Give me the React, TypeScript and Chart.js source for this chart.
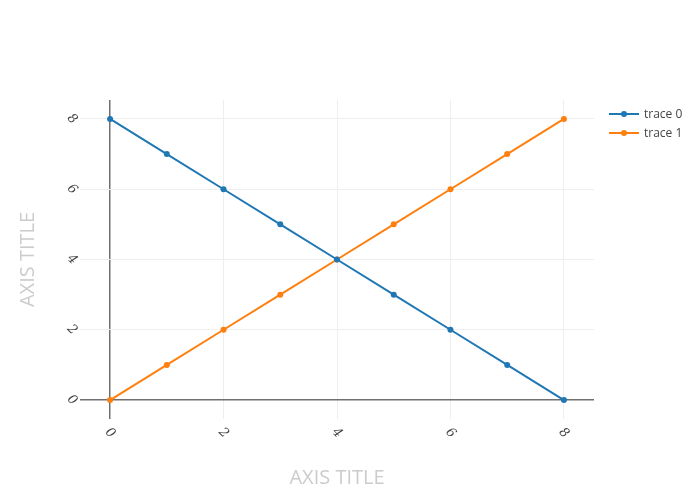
import { useEffect, useRef } from 'react';
import { Chart, ChartConfiguration, Plugin, registerables } from 'chart.js';

Chart.register(...registerables);

const xValues = [0, 1, 2, 3, 4, 5, 6, 7, 8];
const trace0Values = [8, 7, 6, 5, 4, 3, 2, 1, 0];
const trace1Values = [0, 1, 2, 3, 4, 5, 6, 7, 8];
const seriesNames = ['trace 0', 'trace 1'];
const seriesColors = ['#1f77b4', '#ff7f0e'];
const xTicks = [0, 2, 4, 6, 8];
const yTicks = [0, 2, 4, 6, 8];

const tickFont = 'italic 13px "DejaVu Serif"';

// rotated tick labels and the legend, drawn plotly-style
const decorPlugin: Plugin = {
  id: 'decor',
  afterDraw(chart) {
    const { ctx, scales } = chart;
    const xs = scales.x;
    const ys = scales.y;
    ctx.save();
    ctx.fillStyle = '#444';
    ctx.font = tickFont;
    ctx.textAlign = 'center';
    ctx.textBaseline = 'middle';
    xTicks.forEach(v => {
      ctx.save();
      ctx.translate(xs.getPixelForValue(v), chart.chartArea.bottom + 14);
      ctx.rotate(Math.PI / 4);
      ctx.fillText(String(v), 0, 0);
      ctx.restore();
    });
    yTicks.forEach(v => {
      ctx.save();
      ctx.translate(chart.chartArea.left - 8, ys.getPixelForValue(v));
      ctx.rotate(Math.PI / 4);
      ctx.fillText(String(v), 0, 0);
      ctx.restore();
    });

    ctx.font = '12px "Open Sans"';
    ctx.textAlign = 'left';
    seriesNames.forEach((name, i) => {
      const y = 114 + i * 19;
      ctx.strokeStyle = seriesColors[i];
      ctx.lineWidth = 2;
      ctx.beginPath();
      ctx.moveTo(609, y);
      ctx.lineTo(639, y);
      ctx.stroke();
      ctx.fillStyle = seriesColors[i];
      ctx.beginPath();
      ctx.arc(624, y, 3, 0, Math.PI * 2);
      ctx.fill();
      ctx.fillStyle = '#444';
      ctx.fillText(name, 644, y + 1);
    });
    ctx.restore();
  }
};

export default function App() {
  const canvasRef = useRef<HTMLCanvasElement>(null);
  const chartRef = useRef<Chart | null>(null);

  useEffect(() => {
    document.body.style.margin = '0';
    if (!canvasRef.current) return;
    if (chartRef.current) chartRef.current.destroy();
    const ctx = canvasRef.current.getContext('2d');
    if (!ctx) return;

    const makeData = (ys: number[]) => xValues.map((x, i) => ({ x, y: ys[i] }));

    const config: ChartConfiguration = {
      type: 'line',
      data: {
        datasets: [trace0Values, trace1Values].map((vals, i) => ({
          label: seriesNames[i],
          data: makeData(vals),
          borderColor: seriesColors[i],
          backgroundColor: seriesColors[i],
          borderWidth: 2,
          pointRadius: 3,
          pointBorderWidth: 0,
          tension: 0
        }))
      },
      options: {
        responsive: false,
        animation: false,
        layout: { padding: { left: 0, top: 100, right: 106, bottom: 0 } },
        plugins: {
          legend: { display: false },
          tooltip: { enabled: false }
        },
        scales: {
          x: {
            type: 'linear',
            min: -0.53,
            max: 8.53,
            afterBuildTicks: s => { s.ticks = xTicks.map(value => ({ value })); },
            afterFit: s => { s.height = 81; },
            ticks: { display: false },
            border: { display: false },
            grid: {
              color: c => (c.tick && c.tick.value === 0 ? '#707070' : '#eeeeee'),
              lineWidth: c => (c.tick && c.tick.value === 0 ? 1.5 : 1),
              drawTicks: false
            },
            title: {
              display: true,
              text: 'AXIS TITLE',
              color: '#cccccc',
              font: { family: 'Open Sans', size: 20 },
              padding: { top: 10, bottom: 10 }
            }
          },
          y: {
            type: 'linear',
            min: -0.54,
            max: 8.54,
            afterBuildTicks: s => { s.ticks = yTicks.map(value => ({ value })); },
            afterFit: s => { s.width = 80; },
            ticks: { display: false },
            border: { display: false },
            grid: {
              color: c => (c.tick && c.tick.value === 0 ? '#707070' : '#eeeeee'),
              lineWidth: c => (c.tick && c.tick.value === 0 ? 1.5 : 1),
              drawTicks: false
            },
            title: {
              display: true,
              text: 'AXIS TITLE',
              color: '#cccccc',
              font: { family: 'Open Sans', size: 20 },
              padding: { top: 16, bottom: 16 }
            }
          }
        }
      },
      plugins: [decorPlugin]
    };

    chartRef.current = new Chart(ctx, config);
    return () => {
      if (chartRef.current) {
        chartRef.current.destroy();
        chartRef.current = null;
      }
    };
  }, []);

  return <canvas ref={canvasRef} width={700} height={500} style={{ display: 'block' }} />;
}
